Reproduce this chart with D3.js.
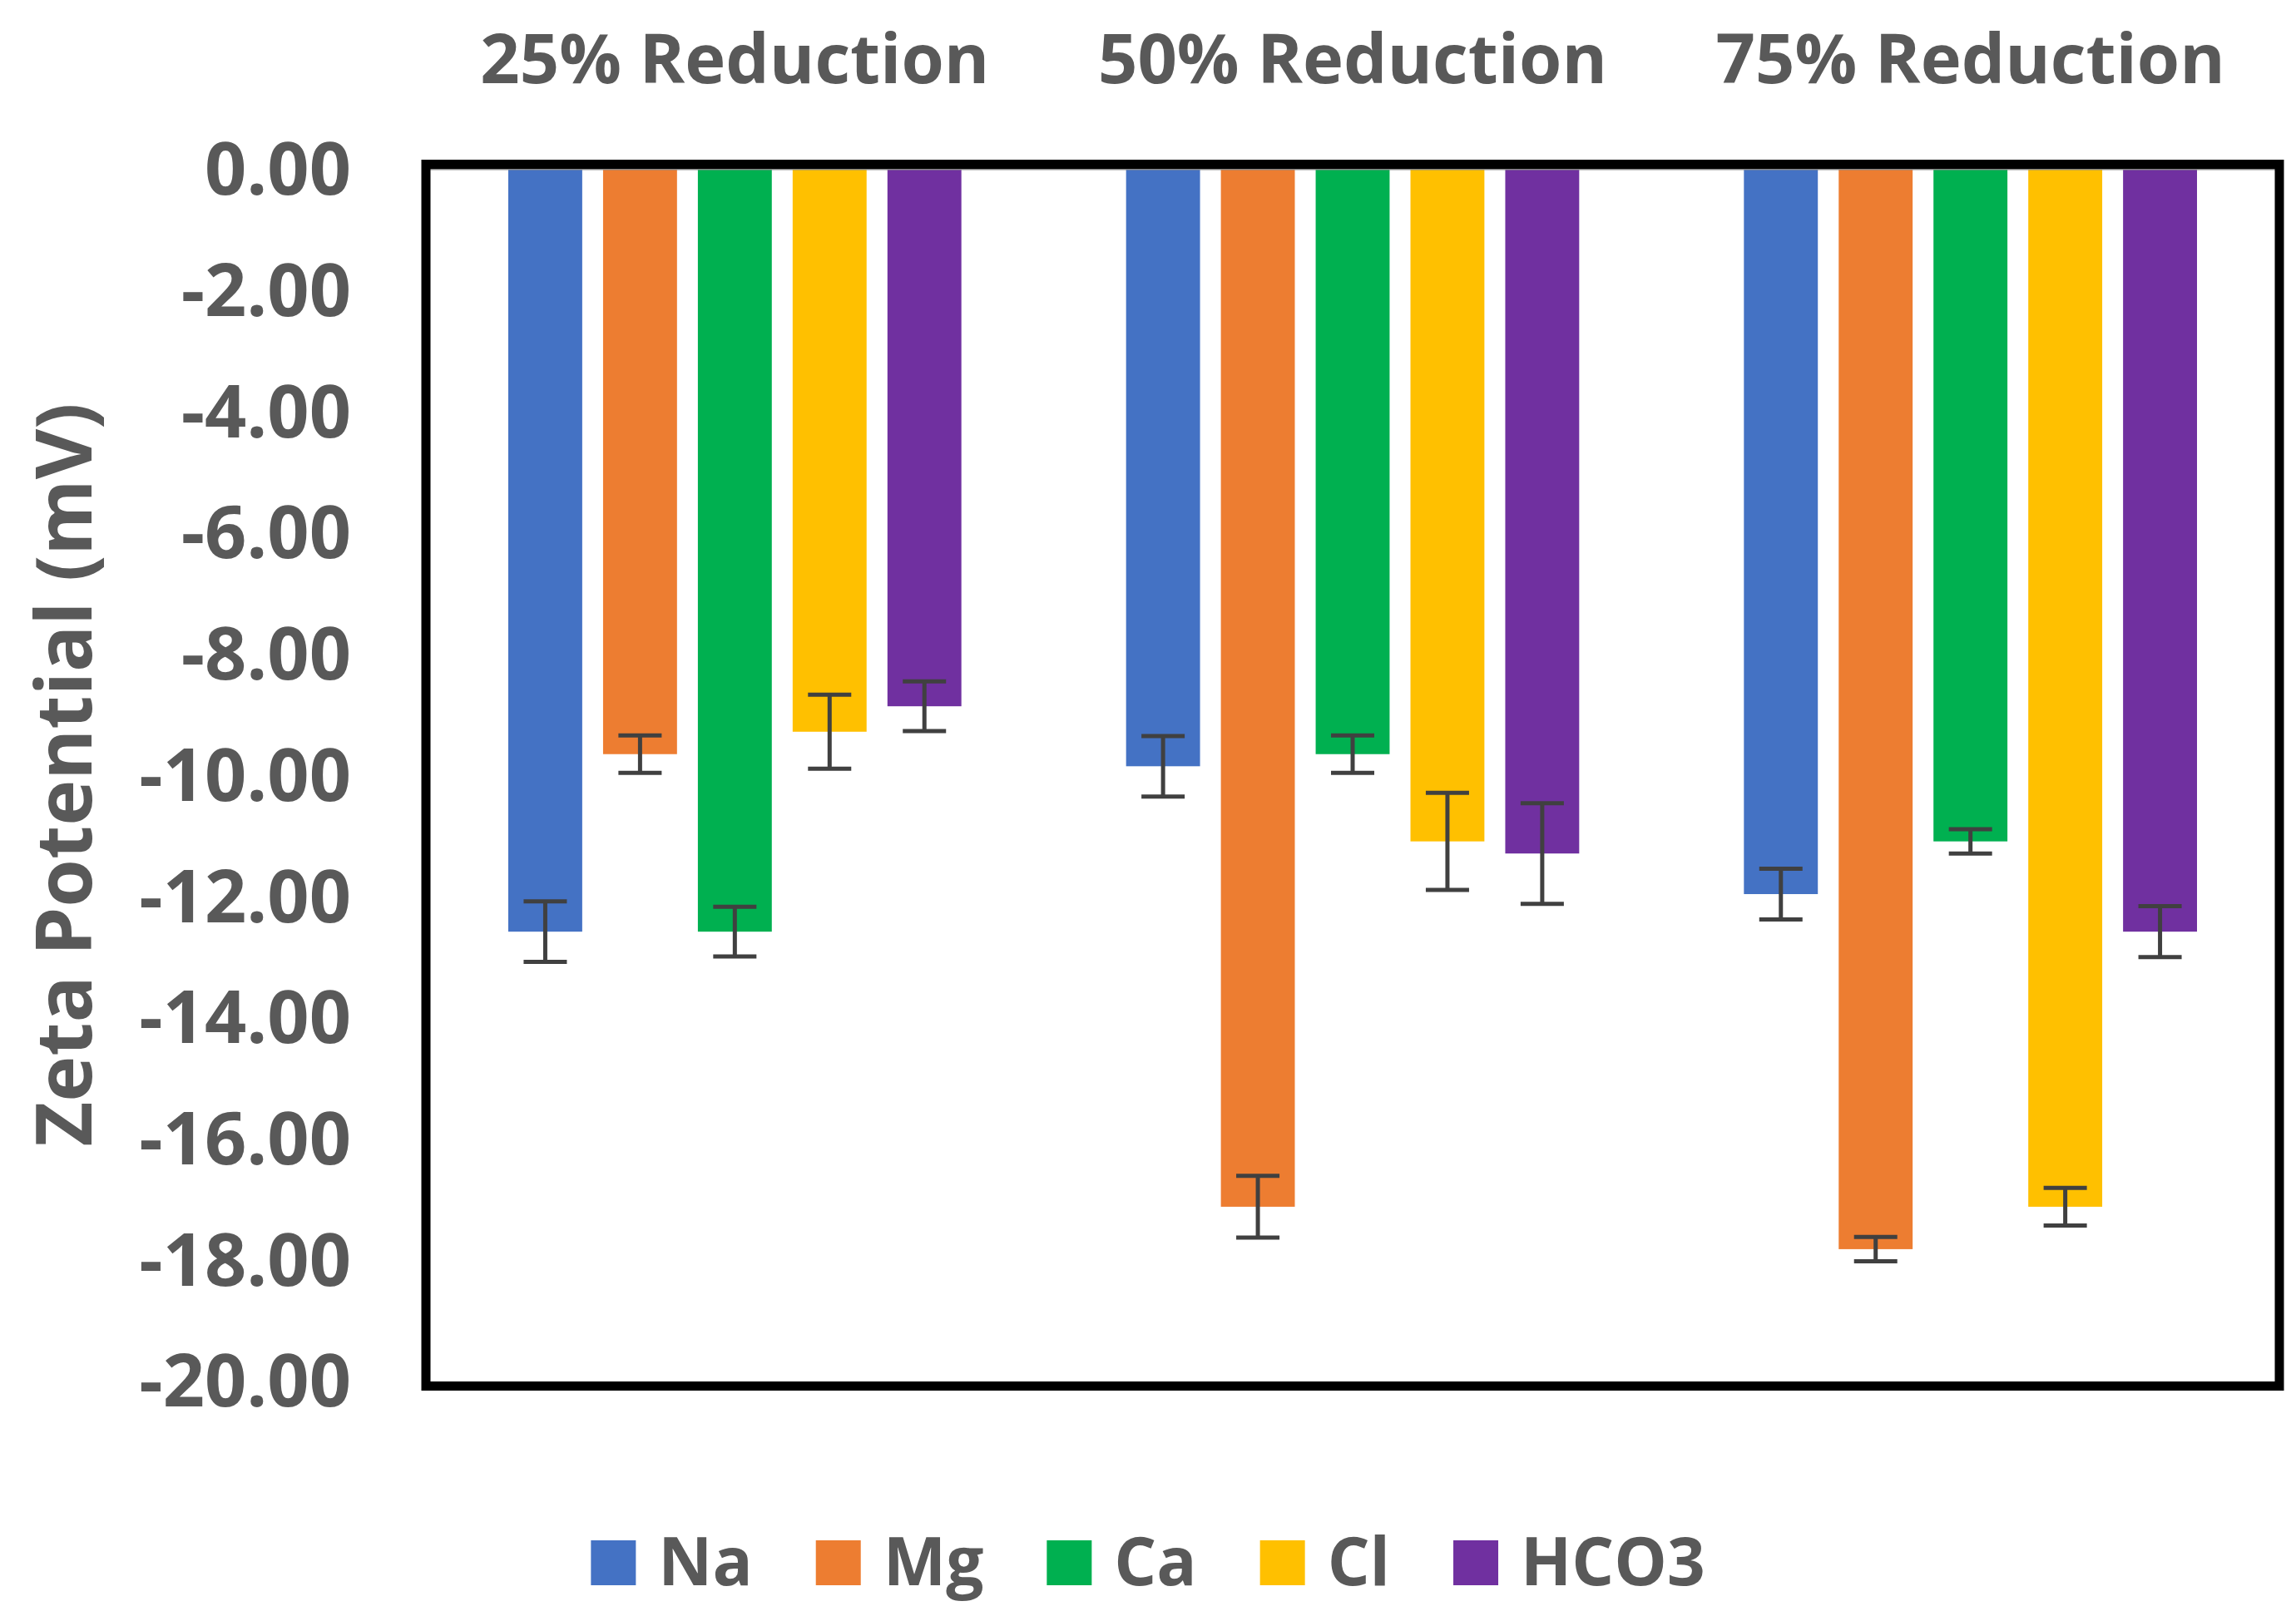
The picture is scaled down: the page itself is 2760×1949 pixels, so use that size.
<!DOCTYPE html>
<html lang="en">
<head>
  <meta charset="UTF-8">
  <title>Zeta Potential</title>
  <script src="https://d3js.org/d3.v7.min.js"></script>
  <style>
    body { margin: 0; background-color: white; }
    text { font-family: "Open Sans", Arial, sans-serif; font-weight: bold; fill: #595959; }
  </style>
</head>
<body>
<svg id="chart"></svg>
<script>
// data
const groups = ["25% Reduction", "50% Reduction", "75% Reduction"];
const ions = ["Na", "Mg", "Ca", "Cl", "HCO3"];
const colours = ["#4472C4", "#ED7D31", "#00B050", "#FFC000", "#7030A0"];
// one array per ion, values for 25%, 50%, 75%
const naVals   = [-12.59, -9.86, -11.97];
const mgVals   = [-9.66, -17.13, -17.83];
const caVals   = [-12.59, -9.66, -11.10];
const clVals   = [-9.29, -11.10, -17.13];
const hco3Vals = [-8.87, -11.30, -12.59];
const naErr   = [0.50, 0.50, 0.42];
const mgErr   = [0.31, 0.51, 0.20];
const caErr   = [0.41, 0.31, 0.20];
const clErr   = [0.61, 0.80, 0.31];
const hco3Err = [0.41, 0.83, 0.42];
const yTicks = [0, -2, -4, -6, -8, -10, -12, -14, -16, -18, -20];

const values = [naVals, mgVals, caVals, clVals, hco3Vals];
const errors = [naErr, mgErr, caErr, clErr, hco3Err];

const W = 2760, H = 1949;
const svg = d3.select("#chart").attr("width", W).attr("height", H);

const plotLeft = 512, plotRight = 2740, plotTop = 203, plotBottom = 1660;

const x0 = d3.scaleBand().domain(groups).range([plotLeft, plotRight]);
const pad = 99;
const x1 = d3.scaleBand().domain(ions).range([pad, x0.bandwidth() - pad]).paddingInner(0.22);
const y = d3.scaleLinear().domain([0, -20]).range([plotTop, plotBottom]);

// flatten into rows for the bars
const rows = [];
groups.forEach((g, gi) => {
  ions.forEach((ion, ii) => {
    rows.push({group: g, ion: ion, colour: colours[ii], v: values[ii][gi], e: errors[ii][gi]});
  });
});

// bars
svg.selectAll(".bar")
  .data(rows)
  .join("rect")
  .attr("class", "bar")
  .attr("x", d => x0(d.group) + x1(d.ion))
  .attr("y", y(0))
  .attr("width", x1.bandwidth())
  .attr("height", d => y(d.v) - y(0))
  .attr("fill", d => d.colour);

// zero line
svg.append("line")
  .attr("x1", plotLeft).attr("x2", plotRight)
  .attr("y1", y(0)).attr("y2", y(0))
  .attr("stroke", "#888").attr("stroke-width", 3);

// error bars
const capW = 52;
const eb = svg.selectAll(".err").data(rows).join("g").attr("class", "err")
  .attr("stroke", "#404040").attr("stroke-width", 5);
const cx = d => x0(d.group) + x1(d.ion) + x1.bandwidth() / 2;
eb.append("line")
  .attr("x1", cx).attr("x2", cx)
  .attr("y1", d => y(d.v + d.e)).attr("y2", d => y(d.v - d.e));
eb.append("line")
  .attr("x1", d => cx(d) - capW / 2).attr("x2", d => cx(d) + capW / 2)
  .attr("y1", d => y(d.v + d.e)).attr("y2", d => y(d.v + d.e));
eb.append("line")
  .attr("x1", d => cx(d) - capW / 2).attr("x2", d => cx(d) + capW / 2)
  .attr("y1", d => y(d.v - d.e)).attr("y2", d => y(d.v - d.e));

// frame
svg.append("rect")
  .attr("x", plotLeft).attr("y", 197.5)
  .attr("width", plotRight - plotLeft).attr("height", 1666.5 - 197.5)
  .attr("fill", "none").attr("stroke", "black").attr("stroke-width", 11);

// y axis labels (plain hyphen like Excel)
const yAxis = d3.axisLeft(y).tickValues(yTicks).tickFormat(d => d.toFixed(2)).tickSize(0).tickPadding(0);
const ya = svg.append("g").attr("transform", `translate(422,0)`).call(yAxis);
ya.select(".domain").remove();
ya.selectAll("text")
  .attr("font-size", 88).attr("dy", "0.35em")
  .style("font-family", "'Open Sans', Arial, sans-serif").style("font-weight", "bold")
  .attr("fill", "#595959");

// y axis title
svg.append("text")
  .attr("transform", `translate(110,${(plotTop + plotBottom) / 2}) rotate(-90)`)
  .attr("text-anchor", "middle")
  .attr("font-size", 93)
  .text("Zeta Potential (mV)");

// group titles on top
svg.selectAll(".gtitle")
  .data(groups)
  .join("text")
  .attr("class", "gtitle")
  .attr("x", d => x0(d) + x0.bandwidth() / 2)
  .attr("y", 100)
  .attr("text-anchor", "middle")
  .attr("font-size", 83)
  .text(d => d);

// legend
const legend = svg.append("g");
let lx = 0;
ions.forEach((ion, i) => {
  const g = legend.append("g").attr("transform", `translate(${lx},0)`);
  g.append("rect").attr("x", 0).attr("y", 1852).attr("width", 54).attr("height", 54).attr("fill", colours[i]);
  const t = g.append("text").attr("x", 81).attr("y", 1906).attr("font-size", 80).text(ion);
  lx += 81 + t.node().getComputedTextLength() + 76;
});
lx -= 76;
legend.attr("transform", `translate(${(W - lx) / 2},0)`);
</script>
</body>
</html>
